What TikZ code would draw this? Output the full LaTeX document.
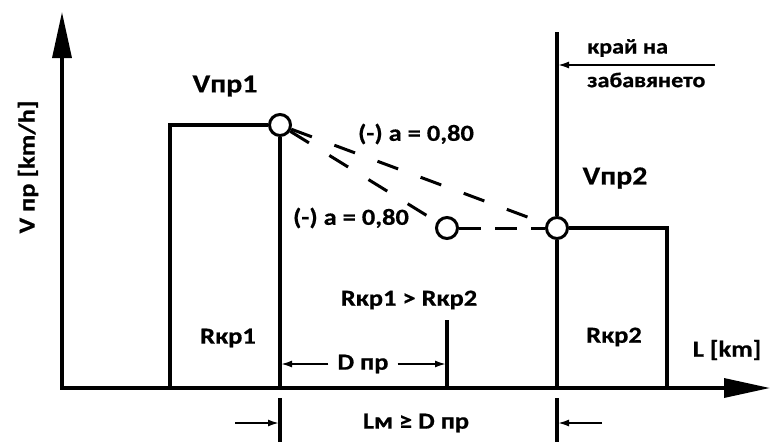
\documentclass[tikz,border=0pt]{standalone}
\usepackage{fontspec}
\setmainfont{Carlito}[FakeStretch=1.15,FakeBold=0.6]
\usetikzlibrary{arrows.meta}
\tikzset{
  main/.style={line width=3.2pt, line join=miter},
  axisline/.style={line width=3.4pt, -{Triangle[length=46pt,width=19pt]}},
  dimline/.style={line width=1.8pt, -{Latex[length=11pt,width=7pt]}},
  tick/.style={line width=3.2pt},
  dashA/.style={line width=3pt, dash pattern=on 22pt off 24pt},
  dashB/.style={line width=3pt, dash pattern=on 22pt off 14pt},
  pt/.style={circle, draw, fill=white, line width=3pt, minimum size=21pt, inner sep=0pt},
  lbl/.style={font=\bfseries\fontsize{23}{26}\selectfont, inner sep=1pt},
  big/.style={font=\bfseries\fontsize{26}{30}\selectfont, inner sep=1pt},
  sml/.style={font=\bfseries\fontsize{21}{24}\selectfont, inner sep=1pt}
}
\begin{document}
\begin{tikzpicture}[x=1pt,y=-1pt]
\useasboundingbox (0,0) rectangle (771,442);
% coordinates
\coordinate (o) at (62,388);
\coordinate (ytip) at (62,12);
\coordinate (xs) at (60,388);
\coordinate (xtip) at (770,388);
\coordinate (r1bl) at (170,388);
\coordinate (r1tl) at (170,125);
\coordinate (v1b) at (280,388);
\coordinate (v2t) at (557,32);
\coordinate (v2b) at (557,388);
\coordinate (r2tr) at (667,228);
\coordinate (r2br) at (667,388);
\coordinate (mk1) at (447,320);
\coordinate (mk2) at (447,388);
% circles
\node[pt] (c1) at (280,125) {};
\node[pt] (c2) at (447,228) {};
\node[pt] (c3) at (557,228) {};
% axes
\draw[axisline] (o) -- (ytip);
\draw[axisline] (xs) -- (xtip);
% profile
\draw[main] (r1bl) -- (r1tl) -- (c1.west);
\draw[main] (c1.south) -- (v1b);
\draw[main] (v2t) -- (c3.north);
\draw[main] (c3.south) -- (v2b);
\draw[main] (c3.east) -- (r2tr) -- (r2br);
\draw[tick] (mk1) -- (mk2);
% dashed deceleration lines
\draw[dashA] (c1) -- (c3);
\draw[dashA] (c1) -- (c2);
\draw[dashB] (c2) -- (c3);
% labels
\node[big] (v1) at (225,86) {Vпр1};
\node[big] (v2) at (615,178) {Vпр2};
\node[lbl] (a1) at (416,134) {(-) a = 0,80};
\node[lbl] (a2) at (351,218) {(-) a = 0,80};
\node[sml, anchor=west] (kr) at (586,48) {край на};
\node[sml, anchor=west] (zb) at (586,80) {забавянето};
\node[lbl] (rk1) at (228,338) {Rкр1};
\node[lbl] (rk2) at (614,337) {Rкр2};
\node[lbl] (rk12) at (409,300) {Rкр1 > Rкр2};
\node[lbl] (lkm) at (727,350) {L [km]};
\node[lbl, rotate=90] (vax) at (28,167) {V пр [km/h]};
\node[lbl] (dpr) at (363,364) {D пр};
\node[lbl] (lm) at (416,423) {Lм ≥ D пр};
% dimension lines
\coordinate (dl) at (281,364);
\coordinate (dr) at (446,364);
\draw[dimline] (dpr.west) ++(-8,0) coordinate (dpl0) -- (dl);
\draw[dimline] (dpr.east) ++(8,0) coordinate (dpr0) -- (dr);
\coordinate (kt) at (715,65);
\coordinate (kh) at (558,65);
\draw[dimline] (kt) -- (kh);
\coordinate (b1t) at (280,398);
\coordinate (b1b) at (280,442);
\coordinate (b2t) at (557,398);
\coordinate (b2b) at (557,442);
\draw[tick] (b1t) -- (b1b);
\draw[tick] (b2t) -- (b2b);
\coordinate (ba1) at (235,423);
\coordinate (bh1) at (279,423);
\coordinate (ba2) at (602,423);
\coordinate (bh2) at (558,423);
\draw[dimline] (ba1) -- (bh1);
\draw[dimline] (ba2) -- (bh2);
\end{tikzpicture}
\end{document}
